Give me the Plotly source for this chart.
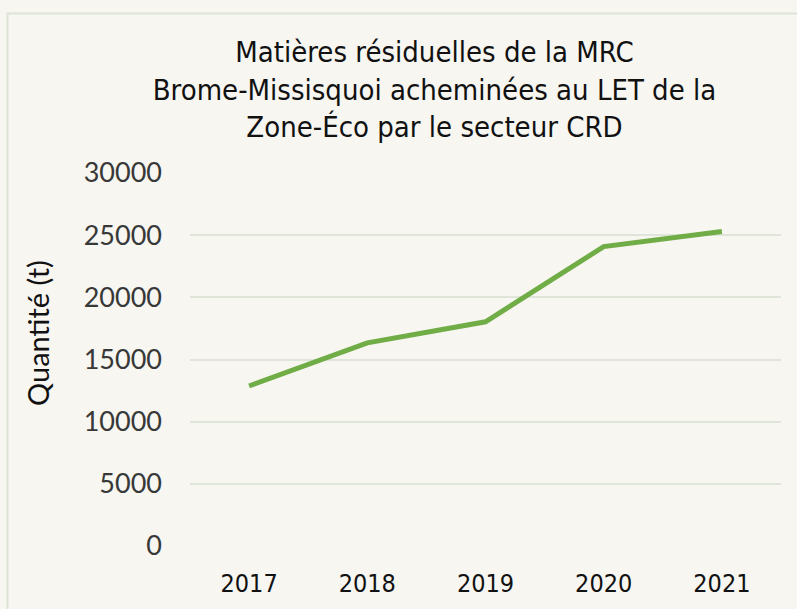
import plotly.graph_objects as go

years = ["2017", "2018", "2019", "2020", "2021"]
quantite = [12870, 16340, 18030, 24080, 25290]
y_ticks = [0, 5000, 10000, 15000, 20000, 25000, 30000]

W, H = 797, 609
L, R, T, B = 190, 16, 173, 63
pw, ph = W - L - R, H - T - B

def px_x(p):
    return (p - L) / pw

def px_y(p):
    return (H - B - p) / ph

COND = "DejaVu Sans Condensed"

fig = go.Figure()
fig.add_trace(go.Scatter(
    x=years, y=quantite, mode="lines",
    line=dict(color="#70ad47", width=5),
    hoverinfo="skip", showlegend=False,
))

fig.update_layout(
    width=W, height=H,
    margin=dict(l=L, r=R, t=T, b=B),
    paper_bgcolor="#f7f6f1", plot_bgcolor="#f7f6f1",
    title=dict(
        text="Matières résiduelles de la MRC<br>Brome-Missisquoi acheminées au LET de la<br>Zone-Éco par le secteur CRD",
        x=px_x(434.5), xanchor="center", xref="paper",
        y=1 - 62 / H, yanchor="top",
        font=dict(family=COND, size=29, color="#111111"),
    ),
    font=dict(family="Lato", color="#222222"),
    shapes=[dict(
        type="rect", xref="paper", yref="paper",
        x0=px_x(7.5), x1=px_x(W + 10), y0=px_y(H + 10), y1=px_y(13.5),
        line=dict(color="#dde4d6", width=2), fillcolor="rgba(0,0,0,0)", layer="below",
    )],
    annotations=[dict(
        text="Quantité (t)", textangle=-90,
        xref="paper", yref="paper", x=px_x(37), y=px_y(333),
        xanchor="center", yanchor="middle", showarrow=False,
        font=dict(family="Lato", size=29, color="#111111"),
    )],
)

fig.update_xaxes(
    type="category", range=[-0.5, 4.5], showgrid=False, zeroline=False, showline=False,
    ticks="", tickfont=dict(family=COND, size=25, color="#111111"),
    ticklabelstandoff=20,
)
fig.update_yaxes(
    range=[0, 30000], tickvals=y_ticks, ticktext=[str(v) for v in y_ticks],
    showgrid=True, gridcolor="#dfe5d8", gridwidth=1.5,
    zeroline=False, showline=False, ticks="",
    tickfont=dict(family="Lato", size=27, color="#383838"),
    ticklabelstandoff=27,
)

fig.write_html(
    "out.html",
    config={"displayModeBar": False},
    post_script="document.body.style.margin='0';document.body.style.padding='0';",
)
